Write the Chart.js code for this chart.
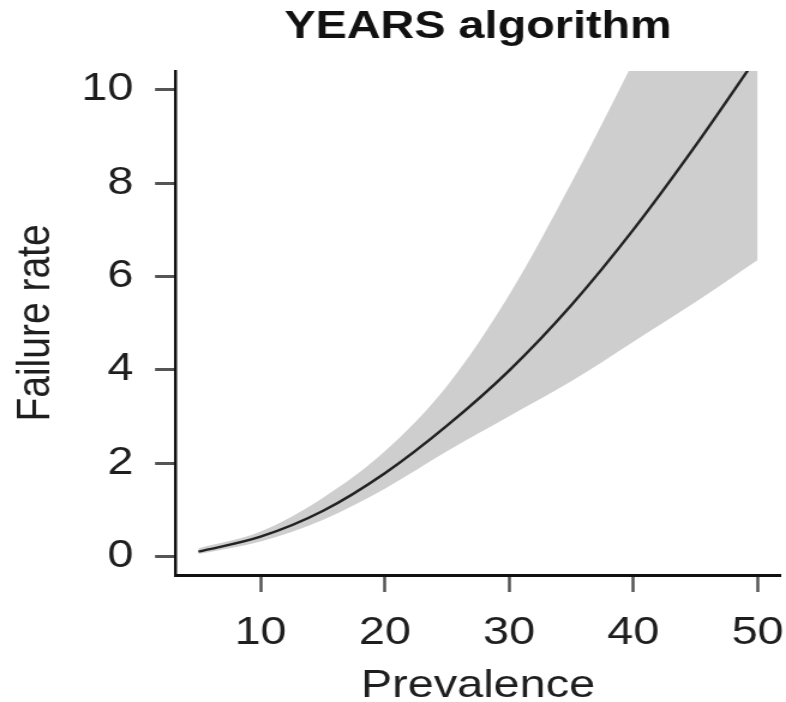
<!DOCTYPE html>
<html>
<head>
<meta charset="utf-8">
<script src="https://cdn.jsdelivr.net/npm/chart.js@4/dist/chart.umd.min.js"></script>
<style>
  body { margin: 0; background: #fff; }
  canvas { display: block; }
</style>
</head>
<body>
<canvas id="myChart" width="655" height="702" style="width:786px;height:702px"></canvas>
<script>

// Failure rate against prevalence, with its uncertainty band
// --------------------------------------------
const prevalence = [5, 10, 15, 20, 25, 30, 35, 40, 45, 50]
const failureRate = [0.1, 0.42, 0.97, 1.78, 2.8, 3.98, 5.38, 7.0, 8.8, 10.72]
const bandUpper = [0.17, 0.53, 1.25, 2.25, 3.65, 5.6, 8.0, 10.6, 13.3, 16.1]
const bandLower = [0.05, 0.32, 0.78, 1.45, 2.25, 3.0, 3.75, 4.6, 5.45, 6.35]

const xTicks = [10, 20, 30, 40, 50]
const yTicks = [0, 2, 4, 6, 8, 10]

const chartTitle = 'YEARS algorithm'
const xTitle = 'Prevalence'
const yTitle = 'Failure rate'

const FONT = '"Liberation Sans", Arial, Helvetica, sans-serif'
const TEXT = '#1e1e1e'

function points(ys) {
    return prevalence.map((x, i) => ({ x: x, y: ys[i] }))
}

// Title centred over the plotting region
// --------------------------------------------
const plotTitle = {
    id: 'plotTitle',
    afterDraw(chart) {
        const { ctx, chartArea } = chart
        ctx.save()
        ctx.font = `bold 39px ${FONT}`
        ctx.fillStyle = '#111'
        ctx.textAlign = 'center'
        ctx.textBaseline = 'alphabetic'
        ctx.fillText(chartTitle, (chartArea.left + chartArea.right) / 2, 38)
        ctx.restore()
    }
}

const ctx = document.getElementById('myChart').getContext('2d')

const myChart = new Chart(ctx, {
    type: 'line',
    data: {
        datasets: [{
            label: 'upper',
            data: points(bandUpper),
            borderWidth: 0,
            pointRadius: 0,
            backgroundColor: '#cecece',
            fill: '+1',
            cubicInterpolationMode: 'monotone',
            order: 2
        }, {
            label: 'lower',
            data: points(bandLower),
            borderWidth: 0,
            pointRadius: 0,
            fill: false,
            cubicInterpolationMode: 'monotone',
            order: 2
        }, {
            label: 'rate',
            data: points(failureRate),
            borderColor: '#222',
            borderWidth: 2.4,
            pointRadius: 0,
            fill: false,
            cubicInterpolationMode: 'monotone',
            order: 0
        }]
    },
    options: {
        responsive: false,
        animation: false,
        devicePixelRatio: 1,
        layout: { padding: { top: 71, right: 5, bottom: 0, left: 0 } },
        plugins: {
            legend: { display: false },
            tooltip: { enabled: false }
        },
        scales: {
            x: {
                type: 'linear',
                min: 3.2,
                max: 51.8,
                afterBuildTicks: scale => { scale.ticks = xTicks.map(v => ({ value: v })) },
                afterFit: scale => {
                    scale.height = 127
                    scale.paddingLeft = 0
                    scale.paddingRight = 0
                },
                grid: {
                    drawOnChartArea: false,
                    drawTicks: true,
                    tickLength: 17,
                    tickWidth: 2.5,
                    tickColor: '#555'
                },
                border: { display: true, color: '#111', width: 3 },
                ticks: {
                    padding: 18,
                    maxRotation: 0,
                    color: TEXT,
                    font: { family: FONT, size: 39 }
                },
                title: {
                    display: true,
                    text: xTitle,
                    color: TEXT,
                    font: { family: FONT, size: 39, lineHeight: 0.8 },
                    padding: { top: 0, bottom: 0 }
                }
            },
            y: {
                type: 'linear',
                min: -0.4,
                max: 10.4,
                afterBuildTicks: scale => { scale.ticks = yTicks.map(v => ({ value: v })) },
                afterFit: scale => {
                    scale.width = 146.7
                    scale.paddingTop = 0
                    scale.paddingBottom = 0
                },
                grid: {
                    drawOnChartArea: false,
                    drawTicks: true,
                    tickLength: 17.5,
                    tickWidth: 3,
                    tickColor: '#555'
                },
                border: { display: true, color: '#111', width: 2.5 },
                ticks: {
                    padding: 18,
                    color: TEXT,
                    font: { family: FONT, size: 39 }
                },
                title: {
                    display: true,
                    text: yTitle,
                    color: TEXT,
                    font: { family: FONT, size: 39 },
                    padding: { top: 6.6, bottom: 0 }
                }
            }
        }
    },
    plugins: [plotTitle]
});
</script>
</body>
</html>
